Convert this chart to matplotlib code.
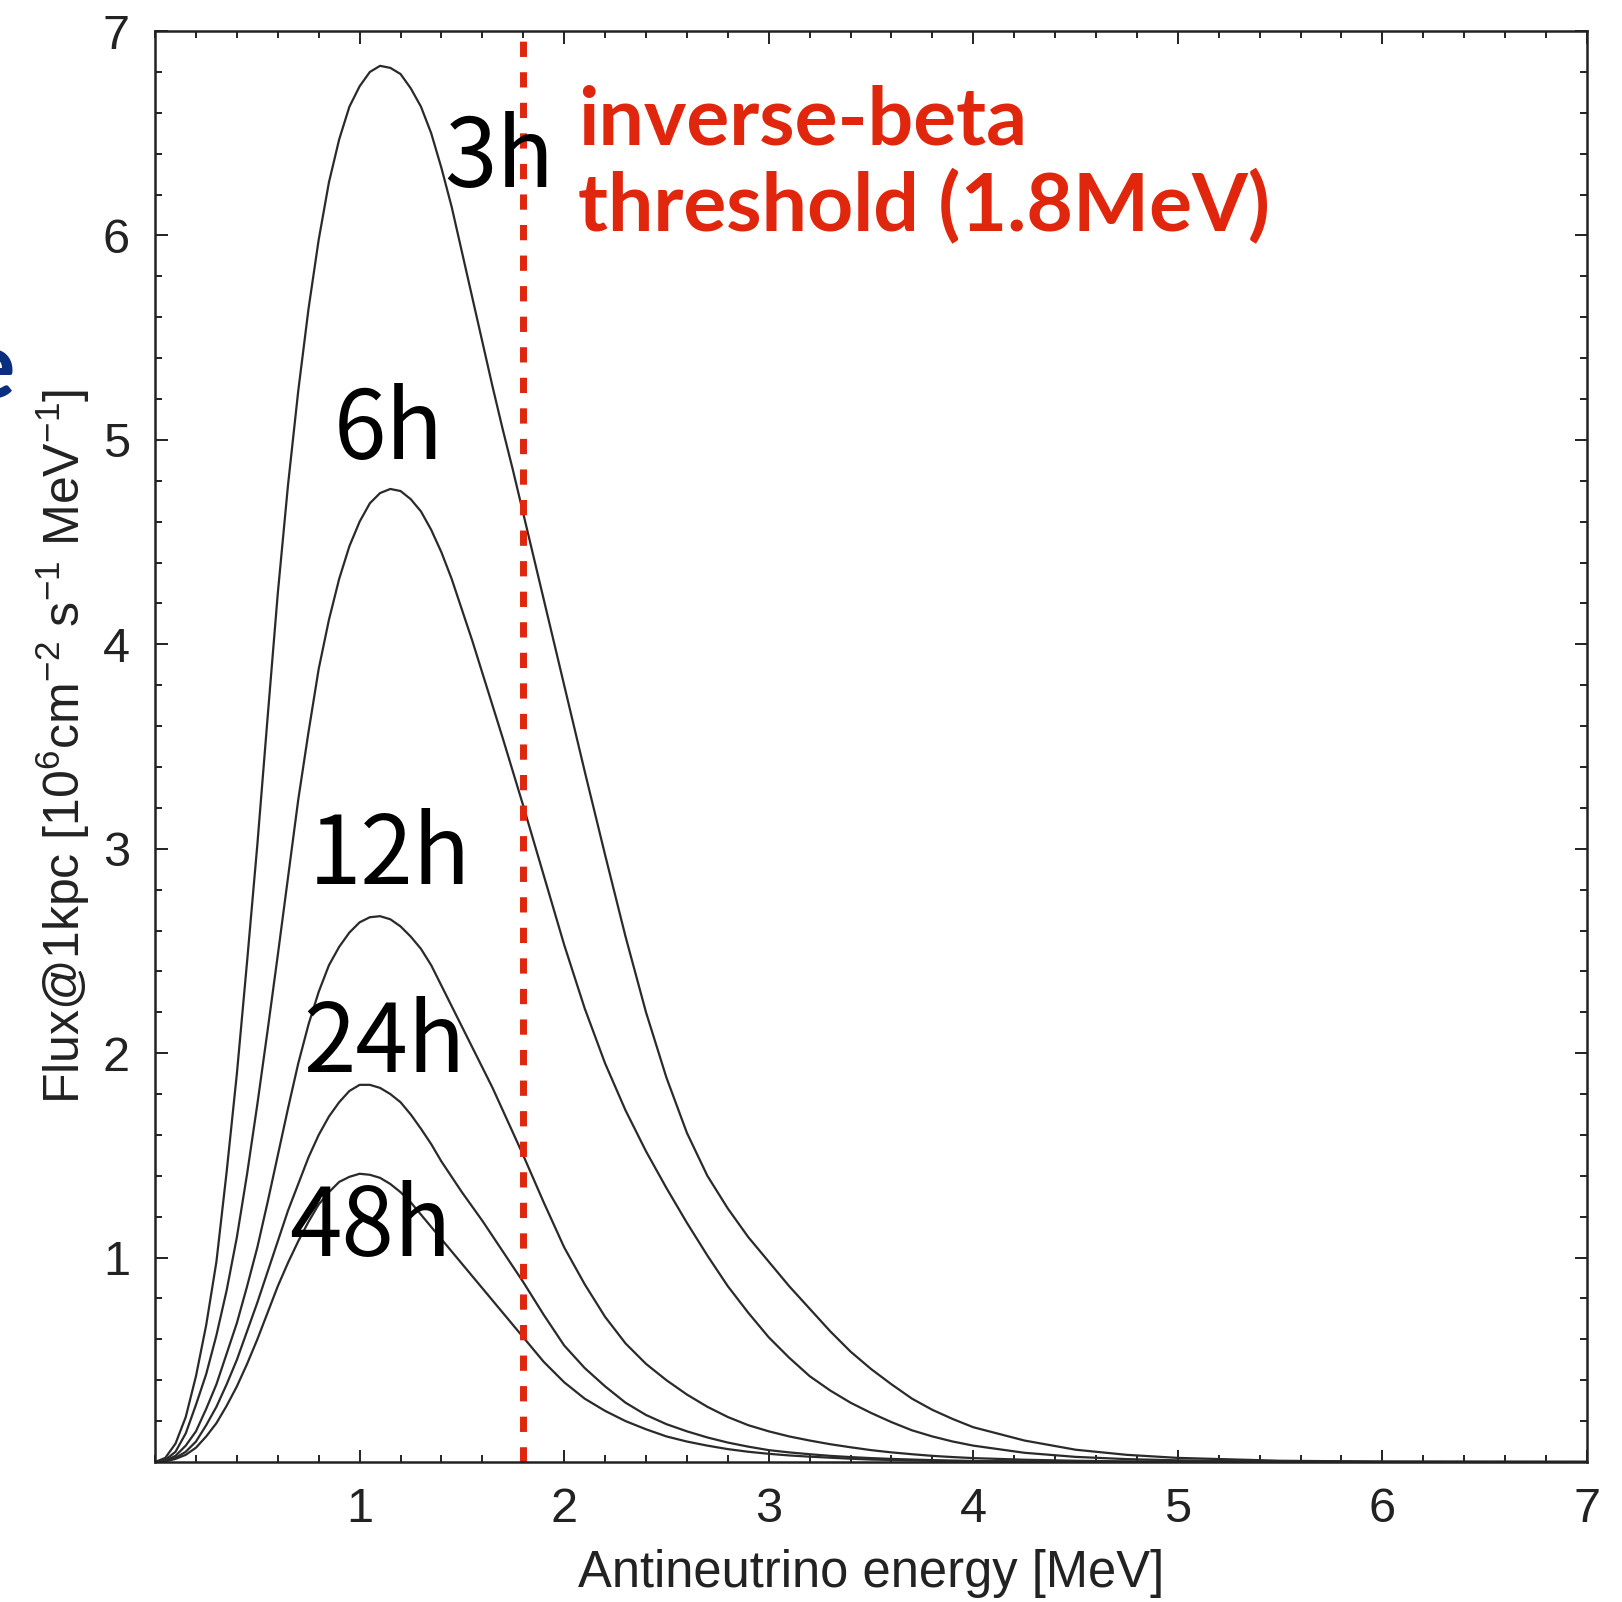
import matplotlib
matplotlib.use("Agg")
import matplotlib.pyplot as plt
from matplotlib.ticker import MultipleLocator, FixedLocator

# antineutrino energy grid [MeV]
energy = [0.0, 0.05, 0.1, 0.15, 0.2, 0.25, 0.3, 0.35, 0.4, 0.45, 0.5, 0.55, 0.6,
          0.65, 0.7, 0.75, 0.8, 0.85, 0.9, 0.95, 1.0, 1.05, 1.1, 1.15, 1.2, 1.25,
          1.3, 1.35, 1.4, 1.45, 1.5, 1.55, 1.6, 1.65, 1.7, 1.75, 1.8, 1.85, 1.9,
          1.95, 2.0,
          2.1, 2.2, 2.3, 2.4, 2.5, 2.6, 2.7, 2.8, 2.9, 3.0, 3.1, 3.2, 3.3, 3.4,
          3.5, 3.6, 3.7, 3.8, 3.9, 4.0,
          4.25, 4.5, 4.75, 5.0, 5.5, 6.0, 7.0]

# flux @ 1 kpc [1e6 cm^-2 s^-1 MeV^-1], hours before collapse
flux_3h = [0.0, 0.02, 0.09, 0.22, 0.42, 0.67, 0.98, 1.42, 1.9, 2.45, 3.02, 3.64, 4.25,
           4.78, 5.24, 5.64, 5.98, 6.26, 6.47, 6.63, 6.73, 6.8, 6.83, 6.82, 6.79, 6.72,
           6.63, 6.5, 6.33, 6.14, 5.92, 5.7, 5.48, 5.26, 5.05, 4.85, 4.64, 4.43, 4.22,
           4.01, 3.8,
           3.38, 2.97, 2.57, 2.2, 1.88, 1.61, 1.4, 1.24, 1.1, 0.98, 0.86, 0.75, 0.64,
           0.54, 0.455, 0.38, 0.31, 0.255, 0.21, 0.17,
           0.105, 0.06, 0.035, 0.02, 0.006, 0.002, 0.0]
flux_6h = [0.0, 0.01, 0.05, 0.14, 0.28, 0.43, 0.62, 0.84, 1.1, 1.41, 1.75, 2.11, 2.48,
           2.86, 3.24, 3.57, 3.88, 4.12, 4.32, 4.48, 4.6, 4.69, 4.74, 4.76, 4.75, 4.71,
           4.65, 4.56, 4.45, 4.32, 4.17, 4.02, 3.86, 3.7, 3.54, 3.375, 3.21, 3.04, 2.87,
           2.7, 2.53,
           2.22, 1.95, 1.72, 1.52, 1.34, 1.17, 1.01, 0.86, 0.73, 0.61, 0.51, 0.42, 0.35,
           0.29, 0.24, 0.195, 0.155, 0.125, 0.1, 0.08,
           0.045, 0.025, 0.014, 0.008, 0.002, 0.0, 0.0]
flux_12h = [0.0, 0.006, 0.03, 0.08, 0.15, 0.26, 0.38, 0.53, 0.68, 0.86, 1.05, 1.27, 1.5,
            1.73, 1.95, 2.14, 2.3, 2.43, 2.52, 2.59, 2.64, 2.665, 2.67, 2.655, 2.62, 2.57,
            2.51, 2.43, 2.33, 2.23, 2.13, 2.03, 1.93, 1.83, 1.72, 1.61, 1.5, 1.385, 1.27,
            1.16, 1.05,
            0.87, 0.71, 0.58, 0.48, 0.4, 0.33, 0.27, 0.22, 0.18, 0.15, 0.125, 0.105, 0.087,
            0.072, 0.058, 0.047, 0.038, 0.03, 0.024, 0.019,
            0.011, 0.006, 0.003, 0.002, 0.0, 0.0, 0.0]
flux_24h = [0.0, 0.004, 0.02, 0.05, 0.1, 0.18, 0.27, 0.38, 0.5, 0.64, 0.78, 0.93, 1.08,
            1.23, 1.36, 1.49, 1.6, 1.69, 1.76, 1.815, 1.845, 1.845, 1.83, 1.8, 1.76, 1.7,
            1.63, 1.555, 1.47, 1.395, 1.32, 1.25, 1.18, 1.105, 1.03, 0.955, 0.88, 0.8, 0.72,
            0.645, 0.57,
            0.46, 0.37, 0.29, 0.23, 0.185, 0.15, 0.12, 0.095, 0.075, 0.058, 0.047, 0.038,
            0.03, 0.024, 0.019, 0.015, 0.012, 0.009, 0.007, 0.005,
            0.003, 0.001, 0.0, 0.0, 0.0, 0.0, 0.0]
flux_48h = [0.0, 0.003, 0.015, 0.035, 0.07, 0.125, 0.19, 0.275, 0.37, 0.48, 0.6, 0.73, 0.86,
            0.975, 1.08, 1.175, 1.26, 1.32, 1.37, 1.395, 1.41, 1.405, 1.39, 1.36, 1.32, 1.27,
            1.21, 1.15, 1.09, 1.03, 0.97, 0.91, 0.85, 0.79, 0.73, 0.67, 0.61, 0.55, 0.49,
            0.44, 0.39,
            0.31, 0.25, 0.2, 0.16, 0.125, 0.1, 0.08, 0.063, 0.05, 0.04, 0.032, 0.026, 0.021,
            0.016, 0.012, 0.01, 0.008, 0.006, 0.004, 0.003,
            0.002, 0.001, 0.0, 0.0, 0.0, 0.0, 0.0]

labels = ["3h", "6h", "12h", "24h", "48h"]
label_pos = [(1.68, 6.37), (1.14, 5.04), (1.15, 2.96), (1.12, 2.04), (1.05, 1.14)]
threshold = 1.8

plt.rcParams["font.family"] = ["Liberation Sans", "DejaVu Sans"]
plt.rcParams["mathtext.default"] = "regular"

fig = plt.figure(figsize=(16.22, 16.02), dpi=100)
ax = fig.add_axes([0.0956, 0.0874, 0.8828, 0.8932])

for f in [flux_3h, flux_6h, flux_12h, flux_24h, flux_48h]:
    ax.plot(energy, f, color="#2a2a2a", lw=1.6)

red = "#e0260c"
lw_thr = 5.0
ax.plot([threshold, threshold], [0, 7], color=red, lw=lw_thr,
        linestyle=(0, (11 / lw_thr, 11 / lw_thr)), solid_capstyle="butt")

for lab, (x, y) in zip(labels, label_pos):
    ax.text(x, y, lab, fontsize=68, family=["Noto Sans CJK JP", "DejaVu Sans"],
            ha="center", va="center", color="black")

ax.text(2.07, 6.74, "inverse-beta\nthreshold (1.8MeV)", fontsize=58,
        family=["Lato", "DejaVu Sans"], fontweight="bold", color=red,
        ha="left", va="top", linespacing=1.17)

ax.set_xlim(0, 7)
ax.set_ylim(0, 7)
ax.xaxis.set_major_locator(FixedLocator([1, 2, 3, 4, 5, 6, 7]))
ax.yaxis.set_major_locator(FixedLocator([1, 2, 3, 4, 5, 6, 7]))
ax.xaxis.set_minor_locator(MultipleLocator(0.2))
ax.yaxis.set_minor_locator(MultipleLocator(0.2))
ax.tick_params(which="both", direction="in", top=True, right=True,
               color="#222222", width=1.4)
ax.tick_params(which="major", length=9, labelsize=35, pad=18, labelcolor="#222222")
ax.tick_params(which="minor", length=5)
for s in ax.spines.values():
    s.set_linewidth(1.8)
    s.set_color("#222222")

ax.set_xlabel("Antineutrino energy [MeV]", fontsize=36.5, color="#222222", labelpad=12)
ax.set_ylabel(r"Flux@1kpc [10$^6$cm$^{-2}$ s$^{-1}$ MeV$^{-1}$]", fontsize=36,
              color="#222222", labelpad=8)

# cut-off fragment of slide text on the left edge
fig.text(15 / 1622, 1 - 398 / 1602, "e", fontsize=68, fontweight="bold",
         color="#0b2f7f", ha="right", va="baseline",
         family=["Lato", "DejaVu Sans"])

fig.savefig("out.png", dpi=100)
